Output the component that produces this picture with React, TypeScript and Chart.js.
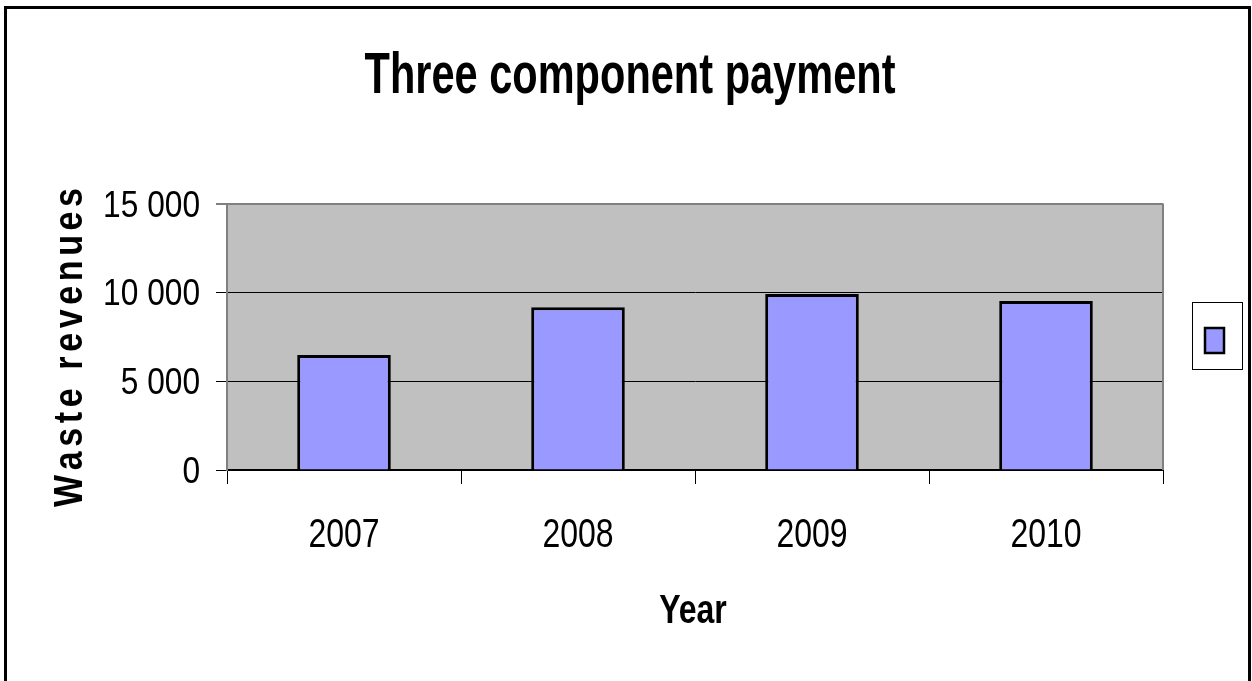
import React, { useEffect, useRef } from 'react';
import { Chart, registerables } from 'chart.js';
Chart.register(...registerables);

const categories = ['2007', '2008', '2009', '2010'];
const wasteRevenues = [6470, 9160, 9900, 9510];
const yMin = 0;
const yMax = 15000;
const yStep = 5000;
const chartTitle = 'Three component payment';
const xTitle = 'Year';
const yTitle = 'Waste revenues';

const SANS = "'Liberation Sans', Arial, sans-serif";
const BAR_COLOR = '#9999FF';

function fmt(v: number) {
  return String(v).replace(/\B(?=(\d{3})+(?!\d))/g, ' ');
}

// draw text horizontally condensed (Arial-Narrow-like look)
function narrowText(
  ctx: CanvasRenderingContext2D,
  text: string,
  x: number,
  y: number,
  size: number,
  bold: boolean,
  align: CanvasTextAlign,
  sx: number,
  baseline: CanvasTextBaseline = 'alphabetic'
) {
  ctx.save();
  ctx.translate(x, y);
  ctx.scale(sx, 1);
  ctx.font = `${bold ? 'bold ' : ''}${size}px ${SANS}`;
  ctx.fillStyle = '#000';
  ctx.textAlign = align;
  ctx.textBaseline = baseline;
  ctx.fillText(text, 0, 0);
  ctx.restore();
}

const decorPlugin = {
  id: 'decor',
  beforeDraw(chart: any) {
    const { ctx, chartArea: a } = chart;
    ctx.save();
    ctx.fillStyle = '#ffffff';
    ctx.fillRect(0, 0, chart.width, chart.height);
    ctx.fillStyle = '#C0C0C0';
    ctx.fillRect(a.left, a.top, a.right - a.left, a.bottom - a.top);
    ctx.restore();
  },
  beforeDatasetsDraw(chart: any) {
    const { ctx, chartArea: a } = chart;
    ctx.save();
    ctx.strokeStyle = '#808080';
    ctx.lineWidth = 2;
    ctx.beginPath();
    ctx.moveTo(a.right, a.top);
    ctx.lineTo(a.right, a.bottom);
    ctx.stroke();
    ctx.restore();
  },
  afterDraw(chart: any) {
    const { ctx, chartArea: a } = chart;
    const xs = chart.scales.x;
    const ys = chart.scales.y;
    ctx.save();
    // outer frame
    ctx.strokeStyle = '#000';
    ctx.lineWidth = 3;
    ctx.strokeRect(5.5, 7.5, 1244, 700);

    // legend box
    const lx = a.right + 29;
    const ly = 302;
    ctx.fillStyle = '#fff';
    ctx.fillRect(lx, ly, 50, 67);
    ctx.lineWidth = 1;
    ctx.strokeStyle = '#000';
    ctx.strokeRect(lx + 0.5, ly + 0.5, 50, 67);
    const ds = chart.data.datasets[0];
    ctx.fillStyle = ds.backgroundColor;
    ctx.fillRect(lx + 13, ly + 26, 19, 25);
    ctx.lineWidth = 2.5;
    ctx.strokeStyle = '#000';
    ctx.strokeRect(lx + 13, ly + 26, 19, 25);
    ctx.restore();

    // chart title (fit to reference width)
    ctx.save();
    ctx.font = `bold 57px ${SANS}`;
    const tw = ctx.measureText(chartTitle).width;
    ctx.restore();
    narrowText(ctx, chartTitle, 630, 93, 57, true, 'center', 531 / tw);

    // y tick labels
    ys.ticks.forEach((t: any, i: number) => {
      const py = ys.getPixelForTick(i);
      narrowText(ctx, fmt(t.value), a.left - 27, py + 13, 36, false, 'right', 0.88);
    });

    // x tick labels
    xs.ticks.forEach((t: any, i: number) => {
      const px = xs.getPixelForTick(i);
      narrowText(ctx, String(chart.data.labels[i]), px, 547, 41, false, 'center', 0.78);
    });

    // x title
    narrowText(ctx, xTitle, (a.left + a.right) / 2 - 2, 623, 40, true, 'center', 0.8);

    // y title, rotated, letter-spaced
    ctx.save();
    ctx.translate(82, 347.5);
    ctx.rotate(-Math.PI / 2);
    const size = 40;
    const sx = 0.85;
    ctx.font = `bold ${size}px ${SANS}`;
    ctx.fillStyle = '#000';
    ctx.textAlign = 'left';
    ctx.textBaseline = 'alphabetic';
    const chars = yTitle.split('');
    const widths = chars.map((c) => ctx.measureText(c).width * sx);
    const natural = widths.reduce((s, w) => s + w, 0);
    const target = 319;
    const gap = (target - natural) / (chars.length - 1);
    let cx = -target / 2;
    chars.forEach((c, i) => {
      ctx.save();
      ctx.translate(cx, 0);
      ctx.scale(sx, 1);
      ctx.fillText(c, 0, 0);
      ctx.restore();
      cx += widths[i] + gap;
    });
    ctx.restore();
  },
};

export default function App() {
  const ref = useRef<HTMLCanvasElement>(null);
  useEffect(() => {
    if (!ref.current) return;
    const chart = new Chart(ref.current, {
      type: 'bar',
      data: {
        labels: categories,
        datasets: [
          {
            label: '',
            data: wasteRevenues,
            backgroundColor: BAR_COLOR,
            borderColor: '#000',
            borderWidth: 3,
            barPercentage: 0.4,
            categoryPercentage: 1,
          },
        ],
      },
      options: {
        responsive: false,
        animation: false,
        devicePixelRatio: 1,
        layout: { padding: { left: 61, right: 89, top: 203.5, bottom: 0 } },
        plugins: {
          legend: { display: false },
          tooltip: { enabled: false },
          title: { display: false, text: chartTitle },
        },
        scales: {
          x: {
            grid: {
              offset: true,
              drawOnChartArea: false,
              drawTicks: true,
              tickLength: 14,
              color: '#000',
            },
            border: { color: '#000', width: 2 },
            ticks: { display: false },
            title: { display: false, text: xTitle },
            afterFit(scale: any) {
              scale.height = 211;
            },
          },
          y: {
            min: yMin,
            max: yMax,
            grid: {
              color: (c: any) => (c.tick && c.tick.value === yMax ? '#808080' : '#000'),
              lineWidth: (c: any) => (c.tick && c.tick.value === yMax ? 2 : 1),
              tickLength: 11,
            },
            border: { color: '#808080', width: 2 },
            ticks: {
              display: false,
              stepSize: yStep,
            },
            title: { display: false, text: yTitle },
            afterFit(scale: any) {
              scale.width = 166;
            },
          },
        },
      },
      plugins: [decorPlugin],
    });
    return () => chart.destroy();
  }, []);
  return (
    <div style={{ position: 'fixed', left: 0, top: 0, width: 1252, height: 681, background: '#fff' }}>
      <canvas ref={ref} width={1252} height={681} style={{ display: 'block' }} />
    </div>
  );
}
